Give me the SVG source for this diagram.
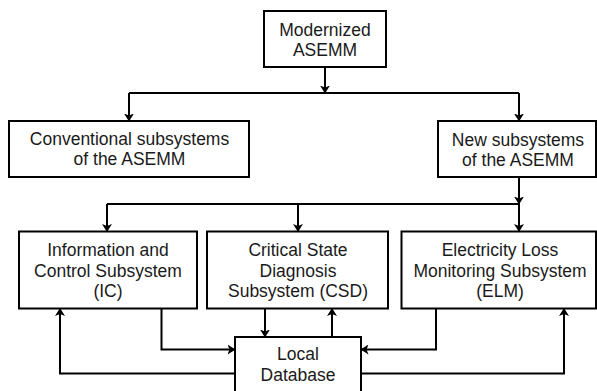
<svg xmlns="http://www.w3.org/2000/svg" width="597" height="391" viewBox="0 0 597 391">
<defs>
<style>
.box{fill:#fff;stroke:#000;stroke-width:2}
.t{font-family:"Liberation Sans",Arial,sans-serif;font-size:17.5px;fill:#1a1a1a;text-anchor:middle}
.c{fill:none;stroke:#000;stroke-width:2}
</style>
<marker id="ah" viewBox="0 0 8 10" refX="7.5" refY="5" markerWidth="8" markerHeight="10" markerUnits="userSpaceOnUse" orient="auto">
<path d="M0,0 L8,5 L0,10 L2,5 Z" fill="#000"/>
</marker>
</defs>
<rect width="597" height="391" fill="#fff"/>
<g id="connectors">
<path class="c" d="M325,67 V93" marker-end="url(#ah)"/>
<path class="c" d="M129,93 H519"/>
<path class="c" d="M129,93 V121" marker-end="url(#ah)"/>
<path class="c" d="M519,93 V121" marker-end="url(#ah)"/>
<path class="c" d="M519,177 V204" marker-end="url(#ah)"/>
<path class="c" d="M107,204 H519"/>
<path class="c" d="M107,204 V231.5" marker-end="url(#ah)"/>
<path class="c" d="M298,204 V231.5" marker-end="url(#ah)"/>
<path class="c" d="M519,204 V231.5" marker-end="url(#ah)"/>
<path class="c" d="M265,308.5 V337" marker-end="url(#ah)"/>
<path class="c" d="M332,337 V308.5" marker-end="url(#ah)"/>
<path class="c" d="M161.5,308.5 V349.5 H235" marker-end="url(#ah)"/>
<path class="c" d="M235,373.5 H60 V308.5" marker-end="url(#ah)"/>
<path class="c" d="M436,308.5 V349.5 H361" marker-end="url(#ah)"/>
<path class="c" d="M361,373.5 H564 V308.5" marker-end="url(#ah)"/>
</g>
<g id="modernized">
<rect class="box" x="264" y="11" width="122" height="56"/>
<text class="t" x="325" y="36">Modernized</text>
<text class="t" x="325" y="56">ASEMM</text>
</g>
<g id="conventional">
<rect class="box" x="9" y="121" width="240" height="56"/>
<text class="t" x="129.5" y="144.5">Conventional subsystems</text>
<text class="t" x="129.5" y="164.5">of the ASEMM</text>
</g>
<g id="new">
<rect class="box" x="438" y="121" width="158" height="56"/>
<text class="t" x="518" y="145.5">New subsystems</text>
<text class="t" x="518" y="165.5">of the ASEMM</text>
</g>
<g id="ic">
<rect class="box" x="19" y="231.5" width="178" height="77"/>
<text class="t" x="108" y="256">Information and</text>
<text class="t" x="108" y="276.5">Control Subsystem</text>
<text class="t" x="108" y="297">(IC)</text>
</g>
<g id="csd">
<rect class="box" x="207" y="231.5" width="181" height="77"/>
<text class="t" x="298" y="256">Critical State</text>
<text class="t" x="298" y="276.5">Diagnosis</text>
<text class="t" x="298" y="297">Subsystem (CSD)</text>
</g>
<g id="elm">
<rect class="box" x="401.5" y="231.5" width="194.5" height="77"/>
<text class="t" x="500" y="256">Electricity Loss</text>
<text class="t" x="500" y="276.5">Monitoring Subsystem</text>
<text class="t" x="500" y="297">(ELM)</text>
</g>
<g id="localdb">
<rect class="box" x="235" y="337" width="126" height="70"/>
<text class="t" x="298" y="360">Local</text>
<text class="t" x="298" y="380.5">Database</text>
</g>
</svg>
